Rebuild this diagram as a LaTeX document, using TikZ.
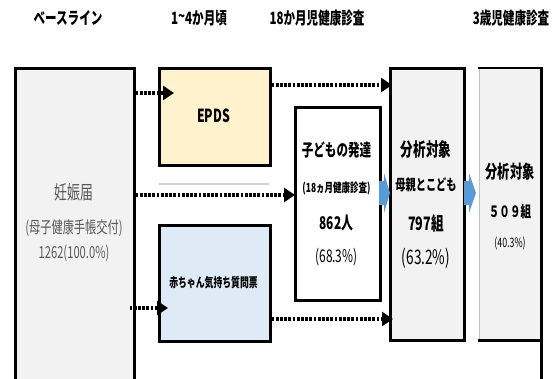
\documentclass[tikz,border=0pt]{standalone}
\usepackage{fontspec}
\setmainfont{Noto Sans CJK JP}[FakeStretch=0.68,BoldFont={* Black}]
\usetikzlibrary{arrows.meta,calc}
\definecolor{boxgray}{HTML}{F2F2F2}
\definecolor{epdsfill}{HTML}{FFF2CC}
\definecolor{babyfill}{HTML}{DEEBF7}
\definecolor{blockblue}{HTML}{5B9BD5}
\definecolor{txtgray}{HTML}{595959}
\newcommand{\fs}[1]{\fontsize{#1}{#1}\selectfont}
\begin{document}
\begin{tikzpicture}[x=1pt,y=-1pt,
  box/.style={draw=black,line width=2.6pt,inner sep=0pt,anchor=north west},
  txt/.style={inner sep=0pt,anchor=center},
  hdr/.style={txt,font=\bfseries\fs{17}},
  dotarrow/.style={line width=4.2pt,dash pattern=on 2.8pt off 1.4pt,-{Triangle[length=11pt,width=14pt]}},
  blockarrow/.style={fill=blockblue,draw=none}]
\useasboundingbox (0,0) rectangle (559,378);
\begin{scope}
\clip (0,0) rectangle (559,378);
% headers
\node[hdr] (h1) at (68,18) {ベースライン};
\node[hdr] (h2) at (199,18) {1\raisebox{0.1em}{\textasciitilde}4か月頃};
\node[hdr] (h3) at (317,18) {18か月児健康診査};
\node[hdr] (h4) at (511,18) {3歳児健康診査};
% baseline box
\node[box,fill=boxgray,minimum width=119pt,minimum height=340pt] (base) at (14,67) {};
\node[txt,text=txtgray,font=\fs{19}] (b1) at (74,192) {妊娠届};
\node[txt,text=txtgray,font=\fs{16.5}] (b2) at (74,228) {(母子健康手帳交付)};
\node[txt,text=txtgray,font=\fs{16.5}] (b3) at (74,253) {1262(100.0\%)};
% EPDS
\node[box,fill=epdsfill,minimum width=111pt,minimum height=97pt] (epds) at (158,67) {};
\node[txt,font=\bfseries\fs{18}] (epdst) at (213.5,115.5) {EPDS};
\draw[draw=black!18,line width=1.5pt] (159,184) coordinate (g1) -- (269,184) coordinate (g2);
% baby questionnaire
\node[box,fill=babyfill,minimum width=111pt,minimum height=116pt] (baby) at (158,224) {};
\node[txt,font=\bfseries\fs{13}] (babyt) at (213.5,283) {赤ちゃん気持ち質問票};
% child development
\node[box,fill=white,minimum width=85pt,minimum height=193pt] (child) at (294,106) {};
\node[txt,font=\bfseries\fs{17}] (c1) at (336.5,150) {子どもの発達};
\node[txt,font=\bfseries\fs{12.5}] (c2) at (336.5,188) {(18ヵ月健康診査)};
\node[txt,font=\bfseries\fs{17.5}] (c3) at (336.5,223) {862人};
\node[txt,font=\fs{17.5}] (c4) at (336.5,257) {(68.3\%)};
% analysis 1
\node[box,fill=boxgray,minimum width=74pt,minimum height=272pt] (ana1) at (389,67) {};
\node[txt,font=\bfseries\fs{18.5}] (a1) at (426,149) {分析対象};
\node[txt,font=\bfseries\fs{15}] (a2) at (426,185) {母親とこども};
\node[txt,font=\bfseries\fs{18.5}] (a3) at (426,223) {797組};
\node[txt,font=\fs{20}] (a4) at (426,258) {(63.2\%)};
% analysis 2
\node[fill=boxgray,inner sep=0pt,anchor=north west,minimum width=62pt,minimum height=272pt] (ana2) at (479,68) {};
\draw[black!25,line width=1pt] (ana2.north west) -- (ana2.south west);
\draw[black!25,line width=1pt] (ana2.north east) -- (ana2.south east);
\draw[line width=2.6pt] ([xshift=-1.3pt]ana2.north west) -- ([xshift=1.3pt]ana2.north east);
\draw[line width=2.6pt] ([xshift=-1.3pt]ana2.south west) -- ([xshift=1.3pt]ana2.south east);
\draw[line width=2.6pt] (ana2.north east) -- ([yshift=-39pt]ana2.south east);
\draw[line width=2.6pt] ([yshift=-233pt]ana2.south west) -- ([yshift=-39pt]ana2.south west);
\node[txt,font=\bfseries\fs{18}] (d1) at (510,172) {分析対象};
\node[txt,font=\bfseries\fs{15.5}] (d2) at (510,212) {５０９組};
\node[txt,font=\fs{13}] (d3) at (510,243) {(40.3\%)};
% dotted arrows
\coordinate (s1) at (base.east |- 0,93);
\coordinate (t1) at ([xshift=16pt]epds.west |- 0,93);
\draw[dotarrow] (s1) -- (t1);
\coordinate (s2) at (base.east |- 0,195);
\coordinate (t2) at (child.west |- 0,195);
\draw[dotarrow] (s2) -- ([xshift=1pt]t2);
\coordinate (s3) at ([xshift=-6pt]base.east |- 0,308);
\coordinate (t3) at ([xshift=10pt]baby.west |- 0,308);
\draw[dotarrow] (s3) -- (t3);
\coordinate (s4) at (epds.east |- 0,85);
\coordinate (t4) at ([xshift=3pt]ana1.west |- 0,85);
\draw[dotarrow] (s4) -- (t4);
\coordinate (s5) at (baby.east |- 0,319);
\coordinate (t5) at ([xshift=4pt]ana1.west |- 0,319);
\draw[dotarrow] (s5) -- (t5);
% block arrows
\fill[blockarrow] (379,181) -- (384,181) -- (384,173) -- (390,193) -- (384,213) -- (384,205) -- (379,205) -- cycle;
\fill[blockarrow] (464,181) -- (469,181) -- (469,173) -- (476,193) -- (469,213) -- (469,205) -- (464,205) -- cycle;
\end{scope}
\end{tikzpicture}
\end{document}
